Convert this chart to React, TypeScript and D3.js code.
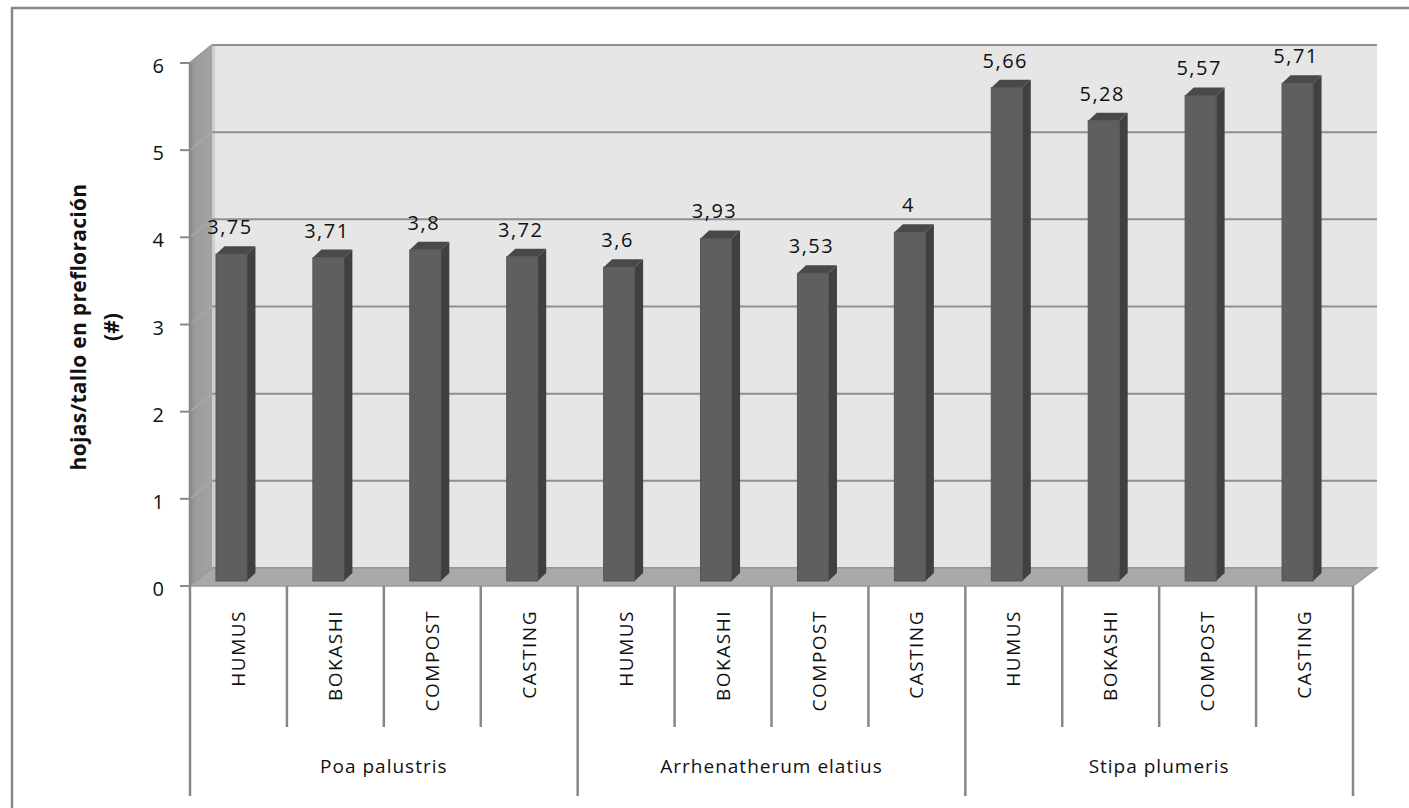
import React from "react";
import * as d3 from "d3";

const groups = ["Poa palustris", "Arrhenatherum elatius", "Stipa plumeris"];
const treatments = ["HUMUS", "BOKASHI", "COMPOST", "CASTING"];
const poaValues = [3.75, 3.71, 3.8, 3.72];
const arrhenatherumValues = [3.6, 3.93, 3.53, 4];
const stipaValues = [5.66, 5.28, 5.57, 5.71];
const yTicks = [0, 1, 2, 3, 4, 5, 6];
const yTitle = "hojas/tallo en prefloración";
const yTitleUnit = "(#)";

const groupValues = [poaValues, arrhenatherumValues, stipaValues];
const rows = groups.flatMap((g, gi) =>
  treatments.map((t, ti) => ({ key: `${gi}-${ti}`, group: g, treatment: t, value: groupValues[gi][ti] }))
);

const W = 1409;
const H = 808;
const FONT = "'Open Sans', 'DejaVu Sans', sans-serif";

export default function App() {
  const x0 = 190;
  const x1 = 1353;
  const yFront0 = 586;
  const yFront6 = 63;
  const depthX = 22;
  const depthY = -18;
  const backRight = 1377;

  const x = d3.scaleBand<string>().domain(rows.map((r) => r.key)).range([x0, x1]).padding(0);
  const yFront = d3.scaleLinear().domain([0, 6]).range([yFront0, yFront6]);
  const yBack = (v: number) => yFront(v) + depthY;
  const barBaseShift = 5;
  const yBar = (v: number) => yFront(v) - barBaseShift;
  const bw = x.bandwidth();
  const barW = 31;
  const sideDX = 8.5;
  const sideDY = -8;

  const catBottom = 727;
  const groupBottom = 796;

  const gridColor = "#8f8f8f";
  const pts = (arr: number[][]) => arr.map((p) => p.join(",")).join(" ");

  return (
    <svg
      width={W}
      height={H}
      style={{ position: "absolute", left: 0, top: 0, background: "#ffffff" }}
      fontFamily={FONT}
    >
      <rect x={12} y={8} width={W + 20} height={H + 20} fill="#ffffff" stroke="#888888" strokeWidth={2.5} />

      {/* back wall */}
      <rect
        x={x0 + depthX}
        y={yBack(6)}
        width={backRight - (x0 + depthX)}
        height={yBack(0) - yBack(6)}
        fill="#e6e6e6"
      />
      <rect x={x0 + depthX} y={yBack(6)} width={3} height={yBack(0) - yBack(6)} fill="#cfcfcf" />
      {yTicks.map((t) => (
        <line
          key={`bg-${t}`}
          x1={x0 + depthX}
          x2={backRight}
          y1={yBack(t)}
          y2={yBack(t)}
          stroke={gridColor}
          strokeWidth={2}
        />
      ))}

      {/* left wall */}
      <defs>
        <linearGradient id="lw" x1="0" x2="1" y1="0" y2="0">
          <stop offset="0" stopColor="#8a8a8a" />
          <stop offset="0.25" stopColor="#9c9c9c" />
          <stop offset="1" stopColor="#a3a3a3" />
        </linearGradient>
      </defs>
      <polygon
        points={pts([
          [x0, yFront(6)],
          [x0 + depthX, yBack(6)],
          [x0 + depthX, yBack(0)],
          [x0, yFront(0)],
        ])}
        fill="url(#lw)"
      />
      {yTicks.map((t) => (
        <line
          key={`lg-${t}`}
          x1={x0}
          x2={x0 + depthX}
          y1={yFront(t)}
          y2={yBack(t)}
          stroke="#a8a8a8"
          strokeWidth={1.5}
        />
      ))}
      <line x1={x0} x2={x0 + depthX} y1={yFront(6)} y2={yBack(6)} stroke="#9a9a9a" strokeWidth={2} />

      {/* floor */}
      <polygon
        points={pts([
          [x0, yFront(0)],
          [x0 + depthX, yBack(0)],
          [backRight, yBack(0)],
          [x1, yFront(0)],
        ])}
        fill="#a9a9a9"
        stroke="#9a9a9a"
        strokeWidth={1.5}
      />

      {/* y axis */}
      <line x1={x0} x2={x0} y1={yFront(6)} y2={groupBottom} stroke="#888888" strokeWidth={2.5} />
      {yTicks.map((t) => (
        <g key={`yt-${t}`}>
          <line x1={x0 - 10} x2={x0} y1={yFront(t)} y2={yFront(t)} stroke="#888888" strokeWidth={2} />
          <text x={164} y={yFront(t) + 10} textAnchor="end" fontSize={20} fill="#111">
            {t}
          </text>
        </g>
      ))}

      {/* y title */}
      <g transform={`translate(79, 327) rotate(-90)`}>
        <text x={0} y={7} textAnchor="middle" fontSize={21} fontWeight="bold" letterSpacing={0.3} fill="#111">
          {yTitle}
        </text>
      </g>
      <g transform={`translate(112, 327) rotate(-90)`}>
        <text x={0} y={7} textAnchor="middle" fontSize={21} fontWeight="bold" fill="#111">
          {yTitleUnit}
        </text>
      </g>

      {/* bars */}
      {rows.map((r) => {
        const cx = (x(r.key) as number) + bw / 2;
        const left = cx - 22.5;
        const right = left + barW;
        const top = yBar(r.value);
        const base = yBar(0);
        return (
          <g key={`bar-${r.key}`}>
            <polygon
              points={pts([
                [right, top],
                [right + sideDX, top + sideDY],
                [right + sideDX, base + sideDY],
                [right, base],
              ])}
              fill="#404040"
            />
            <polygon
              points={pts([
                [left, top],
                [left + sideDX, top + sideDY],
                [right + sideDX, top + sideDY],
                [right, top],
              ])}
              fill="#494949"
            />
            <rect x={left} y={top} width={barW} height={base - top} fill="#5f5f5f" stroke="#555" strokeWidth={1} />
            <text
              x={left + barW / 2 - 1.5}
              y={top - 20}
              textAnchor="middle"
              fontSize={20}
              letterSpacing={1.5}
              fill="#111"
            >
              {String(r.value).replace(".", ",")}
            </text>
          </g>
        );
      })}

      {/* category dividers */}
      {rows.map((r, i) => {
        if (i === 0) return null;
        const xx = x(r.key) as number;
        const isGroup = i % treatments.length === 0;
        return (
          <line
            key={`div-${r.key}`}
            x1={xx}
            x2={xx}
            y1={yFront(0)}
            y2={isGroup ? groupBottom : catBottom}
            stroke="#888888"
            strokeWidth={2.5}
          />
        );
      })}
      <line x1={x1} x2={x1} y1={yFront(0)} y2={groupBottom} stroke="#888888" strokeWidth={2.5} />

      {/* category labels */}
      {rows.map((r) => {
        const cx = (x(r.key) as number) + bw / 2;
        return (
          <text
            key={`cl-${r.key}`}
            transform={`translate(${cx + 6.5}, 610) rotate(-90)`}
            textAnchor="end"
            fontSize={19}
            letterSpacing={1.5}
            fill="#111"
          >
            {r.treatment}
          </text>
        );
      })}

      {/* group labels */}
      {groups.map((g, gi) => {
        const first = x(rows[gi * treatments.length].key) as number;
        const last = (x(rows[gi * treatments.length + treatments.length - 1].key) as number) + bw;
        return (
          <text
            key={`gl-${gi}`}
            x={(first + last) / 2}
            y={773}
            textAnchor="middle"
            fontSize={19}
            letterSpacing={1}
            fill="#111"
          >
            {g}
          </text>
        );
      })}
    </svg>
  );
}
